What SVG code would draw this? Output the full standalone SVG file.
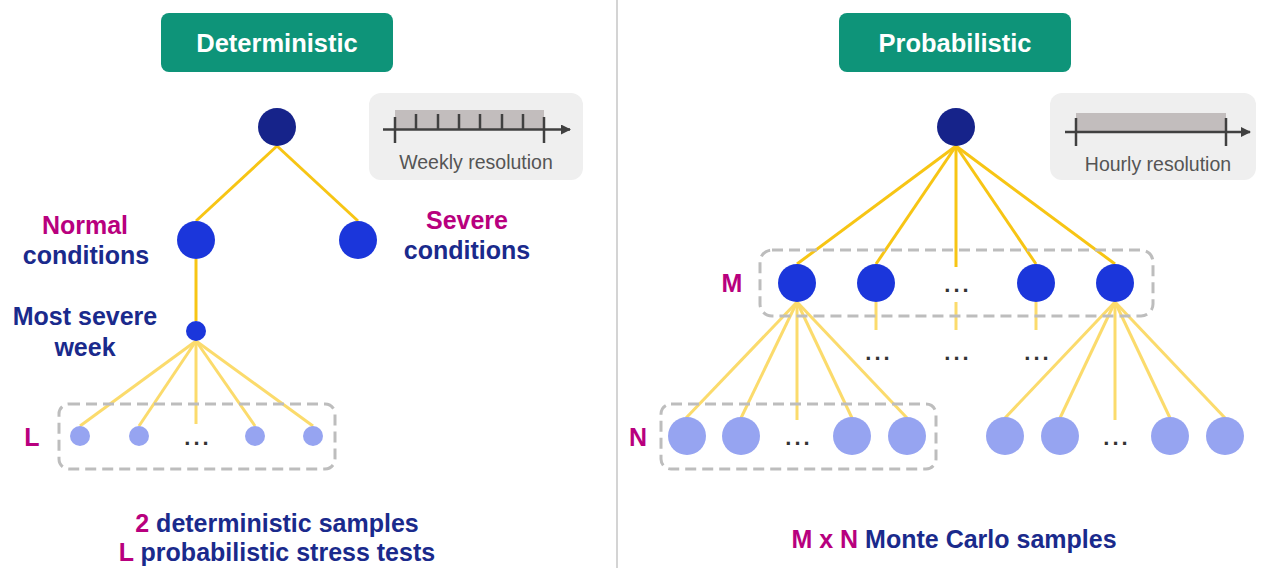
<svg xmlns="http://www.w3.org/2000/svg" width="1266" height="568" viewBox="0 0 1266 568">
<defs>
<style>
.title{fill:#0e9479}
.ttxt{font-family:"Liberation Sans",Arial,sans-serif;font-weight:bold;font-size:25.5px;fill:#fff;text-anchor:middle}
.lbl{font-family:"Liberation Sans",Arial,sans-serif;font-weight:bold;font-size:25px;text-anchor:middle}
.mag{fill:#b8007e}
.navy{fill:#1a2a8c}
.root{fill:#16238a}
.mid{fill:#1b36db}
.leaf{fill:#96a4f1}
.dots{font-family:"Liberation Sans",Arial,sans-serif;font-weight:bold;font-size:22px;fill:#333;text-anchor:middle;letter-spacing:3px}
.res{fill:#efefef}
.restxt{font-family:"Liberation Sans",Arial,sans-serif;font-size:19.5px;fill:#555;text-anchor:middle}
.axis{stroke:#404040;stroke-width:2.5;fill:none}
.bar{fill:#c2bdbd}
.dash{fill:none;stroke:#bdbdbd;stroke-width:3;stroke-dasharray:11 6}
.c1{stroke:#f7c514;stroke-width:3;fill:none}
.c2{stroke:#fbdb6c;stroke-width:3;fill:none}
</style>
<marker id="arr" viewBox="0 0 10 10" refX="9" refY="5" markerWidth="4" markerHeight="4" orient="auto"><path d="M0,0 L10,5 L0,10 z" fill="#404040"/></marker>
</defs>
<rect width="1266" height="568" fill="#fff"/>
<line x1="617" y1="0" x2="617" y2="568" stroke="#d4d4d4" stroke-width="2"/>

<g id="connectors">
<line class="c1" x1="277" y1="146" x2="196" y2="221"/>
<line class="c1" x1="277" y1="146" x2="358" y2="221"/>
<line class="c1" x1="196" y1="259" x2="196" y2="321" stroke="#f9cf3c"/>
<line class="c2" x1="196" y1="341" x2="80" y2="426"/>
<line class="c2" x1="196" y1="341" x2="139" y2="426"/>
<line class="c2" x1="196" y1="341" x2="196" y2="424"/>
<line class="c2" x1="196" y1="341" x2="255" y2="426"/>
<line class="c2" x1="196" y1="341" x2="313" y2="426"/>
<line class="c1" x1="956" y1="146" x2="797" y2="264"/>
<line class="c1" x1="956" y1="146" x2="876" y2="264"/>
<line class="c1" x1="956" y1="146" x2="956" y2="267"/>
<line class="c1" x1="956" y1="146" x2="1036" y2="264"/>
<line class="c1" x1="956" y1="146" x2="1115" y2="264"/>
<line class="c2" x1="876" y1="302" x2="876" y2="330"/>
<line class="c2" x1="956" y1="302" x2="956" y2="330"/>
<line class="c2" x1="1036" y1="302" x2="1036" y2="330"/>
<line class="c2" x1="797" y1="302" x2="686" y2="418"/>
<line class="c2" x1="797" y1="302" x2="741" y2="418"/>
<line class="c2" x1="797" y1="302" x2="797" y2="420"/>
<line class="c2" x1="797" y1="302" x2="852" y2="418"/>
<line class="c2" x1="797" y1="302" x2="907" y2="418"/>
<line class="c2" x1="1115" y1="302" x2="1005" y2="418"/>
<line class="c2" x1="1115" y1="302" x2="1060" y2="418"/>
<line class="c2" x1="1115" y1="302" x2="1115" y2="420"/>
<line class="c2" x1="1115" y1="302" x2="1170" y2="418"/>
<line class="c2" x1="1115" y1="302" x2="1225" y2="418"/>
</g>

<g id="title-det"><rect class="title" x="161" y="13" width="232" height="59" rx="8"/><text class="ttxt" x="277" y="52">Deterministic</text></g>
<g id="title-prob"><rect class="title" x="839" y="13" width="232" height="59" rx="8"/><text class="ttxt" x="955" y="52">Probabilistic</text></g>

<g id="weekly">
<rect class="res" x="369" y="93" width="214" height="87" rx="12"/>
<rect class="bar" x="395" y="110" width="149" height="19"/>
<line class="axis" x1="383" y1="129.5" x2="570" y2="129.5" marker-end="url(#arr)"/>
<g class="axis">
<line x1="395" y1="117" x2="395" y2="143"/><line x1="544" y1="117" x2="544" y2="143"/>
<line x1="416" y1="114" x2="416" y2="129"/><line x1="438" y1="114" x2="438" y2="129"/><line x1="459" y1="114" x2="459" y2="129"/><line x1="480" y1="114" x2="480" y2="129"/><line x1="502" y1="114" x2="502" y2="129"/><line x1="523" y1="114" x2="523" y2="129"/>
</g>
<text class="restxt" x="476" y="169">Weekly resolution</text>
</g>

<g id="hourly">
<rect class="res" x="1050" y="93" width="206" height="87" rx="12"/>
<rect class="bar" x="1076" y="113" width="150" height="19"/>
<line class="axis" x1="1065" y1="132" x2="1250" y2="132" marker-end="url(#arr)"/>
<g class="axis"><line x1="1076" y1="118" x2="1076" y2="146"/><line x1="1226" y1="118" x2="1226" y2="146"/></g>
<text class="restxt" x="1158" y="171">Hourly resolution</text>
</g>

<g id="det-root"><circle class="root" cx="277" cy="127" r="19"/></g>
<g id="det-normal"><circle class="mid" cx="196" cy="240" r="19"/><text class="lbl mag" x="85" y="234">Normal</text><text class="lbl navy" x="86" y="264">conditions</text></g>
<g id="det-severe"><circle class="mid" cx="358" cy="240" r="19"/><text class="lbl mag" x="467" y="229">Severe</text><text class="lbl navy" x="467" y="259">conditions</text></g>
<g id="det-week"><circle class="mid" cx="196" cy="331" r="10"/><text class="lbl navy" x="85" y="325">Most severe</text><text class="lbl navy" x="85" y="356">week</text></g>
<g id="det-leaves">
<rect class="dash" x="59" y="404" width="276" height="65" rx="10"/>
<circle class="leaf" cx="80" cy="436" r="10"/><circle class="leaf" cx="139" cy="436" r="10"/><circle class="leaf" cx="255" cy="436" r="10"/><circle class="leaf" cx="313" cy="436" r="10"/>
<text class="dots" x="198" y="445">...</text>
<text class="lbl mag" x="32" y="446">L</text>
</g>
<g id="det-summary"><text class="lbl navy" x="277" y="532"><tspan class="mag">2</tspan> deterministic samples</text><text class="lbl navy" x="277" y="561"><tspan class="mag">L</tspan> probabilistic stress tests</text></g>

<g id="prob-root"><circle class="root" cx="956" cy="127" r="19"/></g>
<g id="prob-M">
<rect class="dash" x="760" y="250" width="393" height="66" rx="12"/>
<circle class="mid" cx="797" cy="283" r="19"/><circle class="mid" cx="876" cy="283" r="19"/><circle class="mid" cx="1036" cy="283" r="19"/><circle class="mid" cx="1115" cy="283" r="19"/>
<text class="dots" x="958" y="292">...</text>
<text class="lbl mag" x="732" y="292">M</text>
</g>
<g id="prob-dots"><text class="dots" x="879" y="360">...</text><text class="dots" x="958" y="360">...</text><text class="dots" x="1038" y="360">...</text></g>
<g id="prob-N">
<rect class="dash" x="661" y="404" width="275" height="65" rx="10"/>
<circle class="leaf" cx="687" cy="436" r="19"/><circle class="leaf" cx="741" cy="436" r="19"/><circle class="leaf" cx="852" cy="436" r="19"/><circle class="leaf" cx="907" cy="436" r="19"/>
<text class="dots" x="799" y="445">...</text>
<text class="lbl mag" x="638" y="446">N</text>
</g>
<g id="prob-leaves2">
<circle class="leaf" cx="1005" cy="436" r="19"/><circle class="leaf" cx="1060" cy="436" r="19"/><circle class="leaf" cx="1170" cy="436" r="19"/><circle class="leaf" cx="1225" cy="436" r="19"/>
<text class="dots" x="1117" y="445">...</text>
</g>
<g id="prob-summary"><text class="lbl navy" x="954" y="548"><tspan class="mag">M x N</tspan> Monte Carlo samples</text></g>
</svg>
